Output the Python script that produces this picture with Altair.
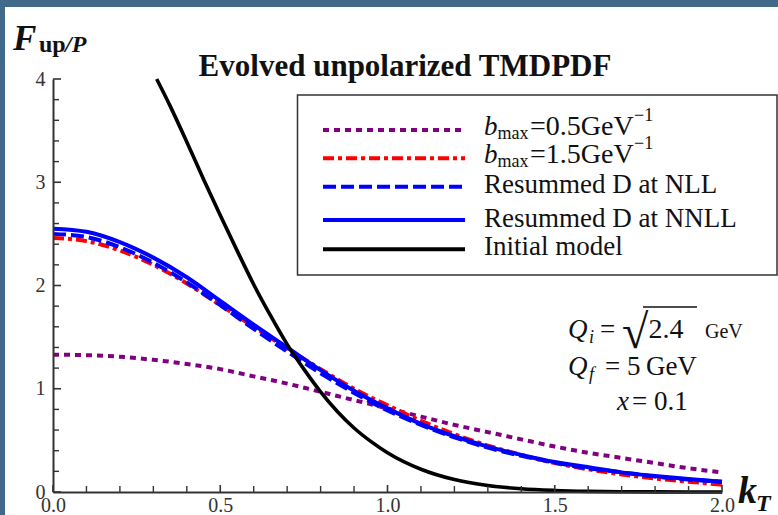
import altair as alt
import pandas as pd

# ---------------- data ----------------
K = [0.0, 0.1, 0.2, 0.3, 0.4, 0.5, 0.6, 0.7, 0.8, 0.9, 1.0,
     1.1, 1.2, 1.3, 1.4, 1.5, 1.6, 1.7, 1.8, 1.9, 2.0]
F_bmax05 = [1.33, 1.325, 1.31, 1.28, 1.24, 1.19, 1.12, 1.05, 0.97, 0.89, 0.81,
            0.73, 0.65, 0.58, 0.51, 0.44, 0.38, 0.33, 0.28, 0.23, 0.19]
F_bmax15 = [2.46, 2.43, 2.34, 2.20, 2.02, 1.81, 1.60, 1.39, 1.19, 1.00, 0.84,
            0.69, 0.56, 0.45, 0.36, 0.28, 0.22, 0.17, 0.13, 0.10, 0.07]
F_nll = [2.50, 2.47, 2.37, 2.22, 2.03, 1.81, 1.58, 1.36, 1.15, 0.96, 0.79,
         0.65, 0.53, 0.43, 0.35, 0.285, 0.23, 0.19, 0.15, 0.12, 0.10]
F_nnll = [2.55, 2.52, 2.42, 2.27, 2.08, 1.85, 1.62, 1.40, 1.18, 0.98, 0.81,
          0.66, 0.54, 0.44, 0.36, 0.29, 0.24, 0.19, 0.155, 0.125, 0.10]
K_init = [0.31, 0.35, 0.40, 0.45, 0.50, 0.55, 0.60, 0.65, 0.70, 0.75, 0.80, 0.85,
          0.90, 0.95, 1.00, 1.10, 1.20, 1.30, 1.40, 1.50, 1.60, 1.70, 1.80, 1.90, 2.00]
F_init = [4.00, 3.74, 3.39, 3.03, 2.68, 2.34, 2.01, 1.71, 1.43, 1.19, 0.97, 0.78,
          0.62, 0.49, 0.38, 0.22, 0.12, 0.063, 0.031, 0.015, 0.0065, 0.0027, 0.001, 0.0004, 0.0]

X_LABELS = [0.0, 0.5, 1.0, 1.5, 2.0]
Y_LABELS = [0, 1, 2, 3, 4]
X_MINOR = [0.1, 0.2, 0.3, 0.4, 0.6, 0.7, 0.8, 0.9, 1.1, 1.2, 1.3, 1.4, 1.6, 1.7, 1.8, 1.9]
Y_MINOR = [0.2, 0.4, 0.6, 0.8, 1.2, 1.4, 1.6, 1.8, 2.2, 2.4, 2.6, 2.8, 3.2, 3.4, 3.6, 3.8]

SERIES = ["bmax=0.5", "bmax=1.5", "Resummed D at NLL", "Resummed D at NNLL", "Initial model"]

# ---------------- layout / style ----------------
W, H = 669, 413
OX, OY = 53, 79          # plot origin in page pixels
FONT = "Liberation Serif"
AX = "#333333"

xs = alt.Scale(domain=[0, 2], nice=False, zero=False)
ys = alt.Scale(domain=[0, 4], nice=False, zero=False)

x_axis = alt.Axis(values=X_LABELS, format=".1f", ticks=False, grid=False, title=None,
                  domainColor=AX, domainWidth=2, labelFont=FONT, labelFontSize=20,
                  labelColor=AX, labelPadding=3, labelFlush=False, zindex=1)
y_axis = alt.Axis(values=Y_LABELS, format="d", ticks=False, grid=False, title=None,
                  domainColor=AX, domainWidth=2, labelFont=FONT, labelFontSize=20,
                  labelColor=AX, labelPadding=8, labelFlush=False, zindex=1)

XENC = alt.X("k:Q", scale=xs, axis=x_axis)
YENC = alt.Y("F:Q", scale=ys, axis=y_axis)


def one(s):
    return pd.DataFrame({"t": [s]})


def curve(ks, fs, name, color, dash, width):
    df = pd.DataFrame({"k": ks, "F": fs, "series": name})
    kw = {}
    if dash:
        kw["strokeDash"] = dash
    return alt.Chart(df).mark_line(color=color, strokeWidth=width, interpolate="monotone",
                                   strokeCap="butt", **kw).encode(x=XENC, y=YENC)


def txt(s, x, y, size, style="normal", weight="normal", align="left", color="#111111"):
    return alt.Chart(one(s)).mark_text(align=align, baseline="alphabetic", font=FONT,
                                       fontSize=size, fontStyle=style, fontWeight=weight,
                                       color=color).encode(
        x=alt.value(x), y=alt.value(y), text="t:N")


def px(v):
    return v - OX


def py(v):
    return v - OY


layers = []

# white page panel on the blue slide background
layers.append(alt.Chart(one("panel")).mark_rect(fill="white").encode(
    x=alt.value(px(5)), x2=alt.value(px(778)), y=alt.value(py(7)), y2=alt.value(py(515))))

# curves
PURPLE, RED, BLUE, BLACK = "#800080", "#ff0000", "#0000ff", "#000000"
layers.append(curve(K, F_bmax05, SERIES[0], PURPLE, [6, 5], 4))
layers.append(curve(K, F_bmax15, SERIES[1], RED, [11, 4, 4, 4], 4))
layers.append(curve(K, F_nll, SERIES[2], BLUE, [13, 5], 4))
layers.append(curve(K, F_nnll, SERIES[3], BLUE, None, 4))
layers.append(curve(K_init, F_init, SERIES[4], BLACK, None, 3.6))

# inward ticks
layers.append(alt.Chart(pd.DataFrame({"F": Y_LABELS})).mark_rule(color=AX, strokeWidth=1.6).encode(
    y=YENC, x=alt.value(0), x2=alt.value(8)))
layers.append(alt.Chart(pd.DataFrame({"F": Y_MINOR})).mark_rule(color=AX, strokeWidth=1.4).encode(
    y=YENC, x=alt.value(0), x2=alt.value(6)))
layers.append(alt.Chart(pd.DataFrame({"k": X_LABELS})).mark_rule(color=AX, strokeWidth=1.6).encode(
    x=XENC, y=alt.value(H), y2=alt.value(H - 7)))
layers.append(alt.Chart(pd.DataFrame({"k": X_MINOR})).mark_rule(color=AX, strokeWidth=1.4).encode(
    x=XENC, y=alt.value(H), y2=alt.value(H - 6)))

# title and axis labels
layers.append(txt("Evolved unpolarized TMDPDF", px(405), py(76), 31, weight="bold", align="center"))
layers.append(txt("F", px(13), py(50), 35, style="italic", weight="bold"))
layers.append(txt("up", px(39), py(52), 24, weight="bold"))
layers.append(txt("/P", px(65), py(52), 24, style="italic", weight="bold"))
layers.append(txt("k", px(738), py(503), 38, style="italic", weight="bold"))
layers.append(txt("T", px(756), py(511), 24, style="italic", weight="bold"))

# legend box
layers.append(alt.Chart(one("legend")).mark_rect(fill="white", stroke="#333333", strokeWidth=1.5).encode(
    x=alt.value(px(297.5)), x2=alt.value(px(777)), y=alt.value(py(95)), y2=alt.value(py(275))))

legend_rows = [
    (SERIES[0], PURPLE, [6, 5], 130),
    (SERIES[1], RED, [11, 4, 4, 4], 158.3),
    (SERIES[2], BLUE, [13, 5], 186.7),
    (SERIES[3], BLUE, None, 220),
    (SERIES[4], BLACK, None, 249.3),
]
for name, color, dash, yy in legend_rows:
    kw = {"strokeDash": dash} if dash else {}
    layers.append(alt.Chart(one(name)).mark_rule(color=color, strokeWidth=4, strokeCap="butt", **kw).encode(
        x=alt.value(px(323)), x2=alt.value(px(465)), y=alt.value(py(yy))))

# legend labels
for base, val in [(135, "=0.5GeV"), (163.3, "=1.5GeV")]:
    layers.append(txt("b", px(484), py(base), 27, style="italic"))
    layers.append(txt("max", px(497.5), py(base + 3.5), 18))
    layers.append(txt(val, px(530), py(base), 28))
    layers.append(txt("\u22121", px(634), py(base - 14), 18))
layers.append(txt("Resummed D at NLL", px(484), py(193.3), 27))
layers.append(txt("Resummed D at NNLL", px(484), py(226.7), 27))
layers.append(txt("Initial model", px(484), py(255), 27))

# annotation
layers.append(txt("Q", px(568), py(338), 27, style="italic"))
layers.append(txt("i", px(589), py(343), 18, style="italic"))
layers.append(txt("=", px(600), py(338), 27))
layers.append(txt("\u221a", px(622), py(348), 48))
layers.append(txt("2.4", px(666), py(338), 28, align="center"))
layers.append(alt.Chart(one("vinculum")).mark_rule(color="#111111", strokeWidth=1.5).encode(
    x=alt.value(px(643)), x2=alt.value(px(697)), y=alt.value(py(307))))
layers.append(txt("GeV", px(705), py(338), 20))
layers.append(txt("Q", px(568), py(375), 27, style="italic"))
layers.append(txt("f", px(589), py(380), 18, style="italic"))
layers.append(txt("= 5\u2009GeV", px(605), py(375), 27))
layers.append(txt("x", px(617), py(410), 27, style="italic"))
layers.append(txt("= 0.1", px(632), py(410), 27))

chart = alt.layer(*layers).properties(
    width=W, height=H,
    autosize=alt.AutoSizeParams(type="none"),
    padding={"left": OX, "top": OY, "right": 778 - OX - W, "bottom": 515 - OY - H},
    background="#41698a",
).configure_view(stroke=None)

chart.save("out.html", embed_options={"renderer": "svg", "actions": False})
